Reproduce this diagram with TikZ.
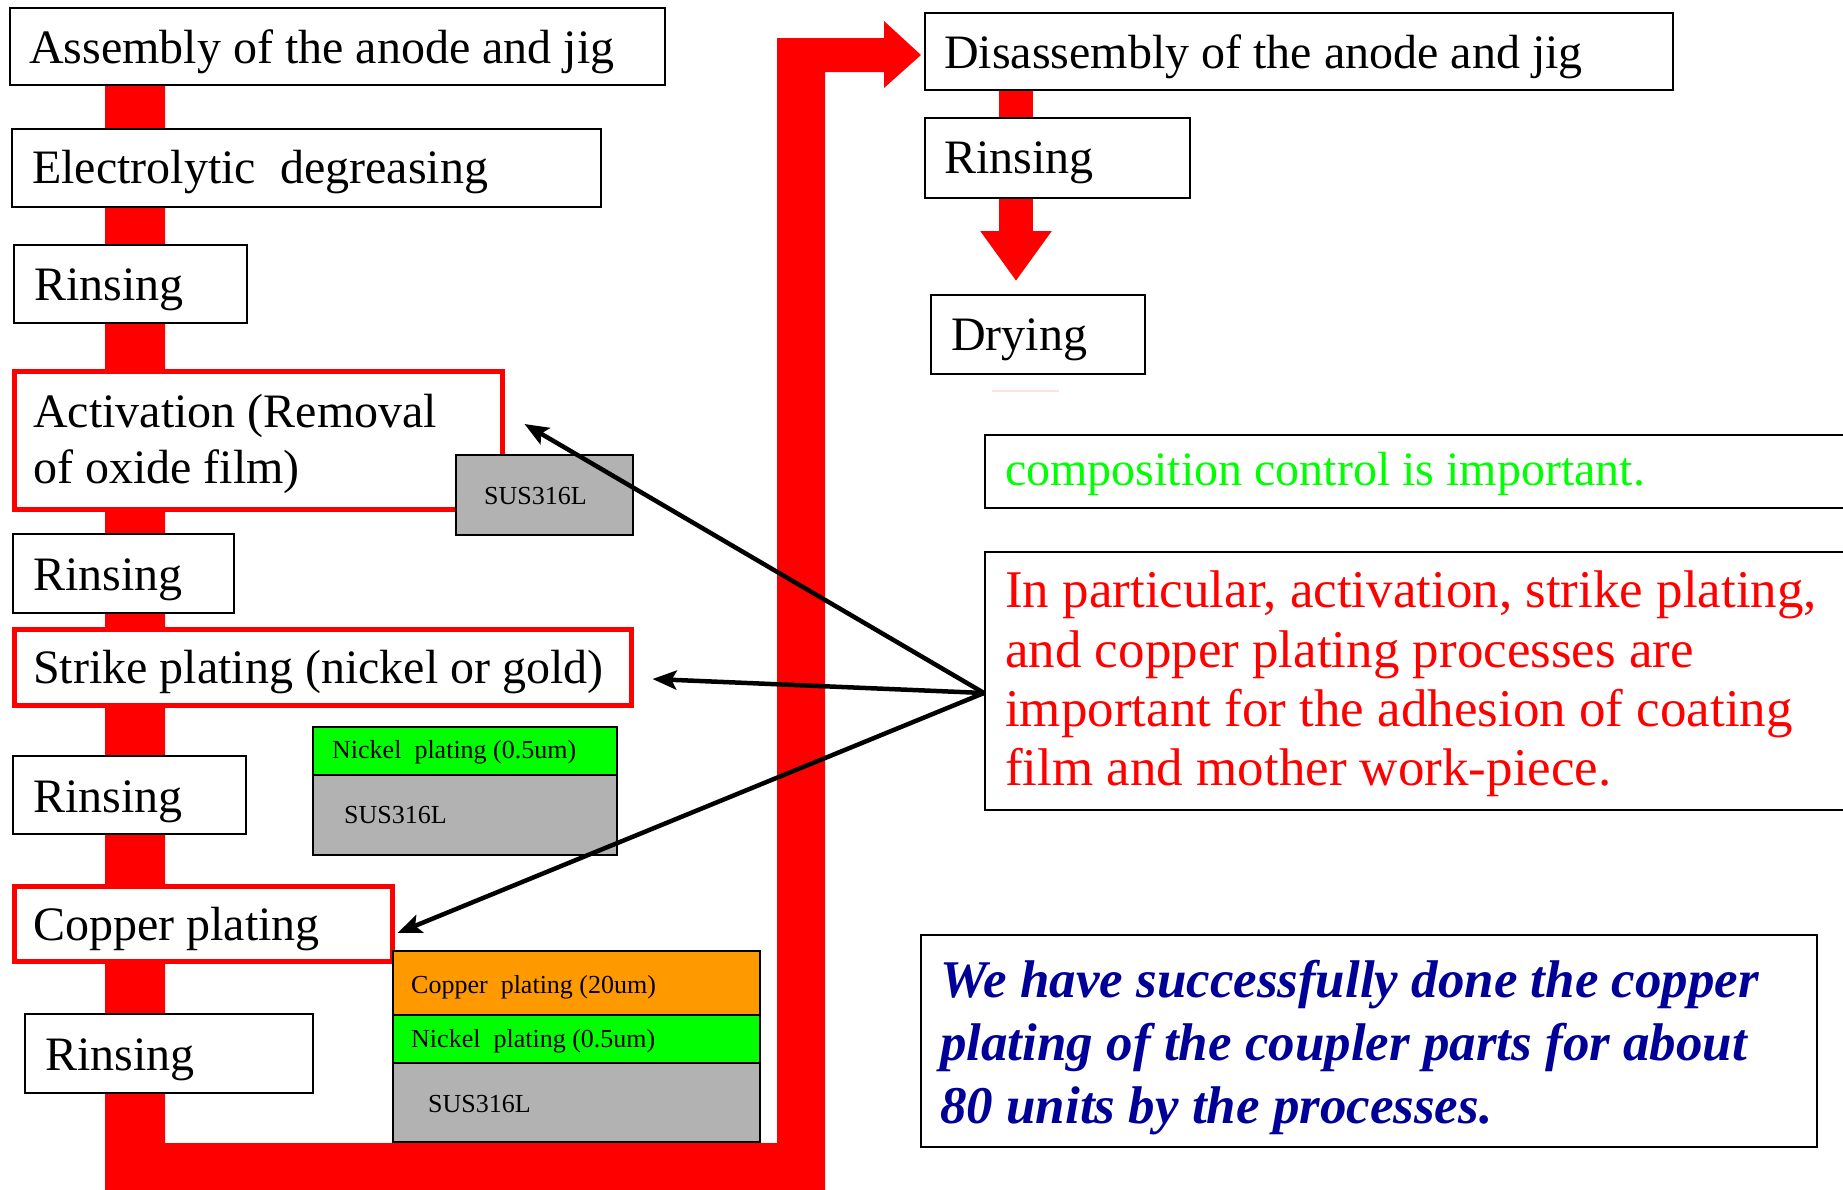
\documentclass[tikz,border=0pt]{standalone}
\usepackage{fontspec}
\setmainfont{Liberation Serif}
\usetikzlibrary{fit,calc,arrows.meta}
\definecolor{sus}{HTML}{B2B2B2}
\definecolor{nigreen}{HTML}{00FF00}
\definecolor{cuorange}{HTML}{FF9900}
\definecolor{navyblue}{HTML}{000099}
\begin{document}
\begin{tikzpicture}[x=1pt,y=-1pt,
  box/.style={draw=black,line width=2pt,fill=white,inner sep=0pt},
  rbox/.style={draw=red,line width=5pt,fill=white,inner sep=0pt},
  layer/.style={draw=black,line width=2.5pt,inner sep=0pt},
  lbl/.style={anchor=base west,inner sep=0pt,font=\fontsize{48}{56}\selectfont},
  big/.style={anchor=base west,inner sep=0pt,font=\fontsize{53}{60}\selectfont},
  small/.style={anchor=base west,inner sep=0pt,font=\fontsize{26}{30}\selectfont},
  pointer/.style={-{Stealth[length=24pt,width=19pt,inset=5pt]},line width=4.5pt,black},
  flowarrow/.style={red,line width=34pt,-{Triangle[length=50pt,width=68pt]}},
]
\useasboundingbox (0,0) rectangle (1843,1189);
\clip (0,0) rectangle (1843,1189);
\fill[white] (0,0) rectangle (1843,1189);

% main red flow path
\fill[red] (105,80) -- (165,80) -- (165,1143) -- (777,1143) -- (777,38) -- (884,38)
  -- (884,21) -- (921,55) -- (884,88) -- (884,72) -- (825,72) -- (825,1195) -- (105,1195) -- cycle;

% left column
\node[box,fit={(10,8)(665,85)}] (asm) {};
\node[lbl] (asmT) at (29,63) {Assembly of the anode and jig};

\node[box,fit={(12,129)(601,207)}] (deg) {};
\node[lbl] (degT) at (32,183) {Electrolytic\ \ degreasing};

\node[box,fit={(14,245)(247,323)}] (rin1) {};
\node[lbl] (rin1T) at (34,300) {Rinsing};

\node[rbox,fit={(14,371)(502,509)}] (act) {};
\node[lbl] (actT1) at (33,427) {Activation (Removal};
\node[lbl] (actT2) at (33,483) {of oxide film)};

\node[layer,fill=sus,fit={(456,455)(633,535)}] (sus1) {};
\node[small] (sus1T) at (484,504) {SUS316L};

\node[box,fit={(13,534)(234,613)}] (rin2) {};
\node[lbl] (rin2T) at (33,590) {Rinsing};

\node[rbox,fit={(14,629)(631,705)}] (str) {};
\node[lbl] (strT) at (33,683) {Strike plating (nickel or gold)};

\node[layer,fill=nigreen,fit={(313,727)(617,775)}] (ni1) {};
\node[small] (ni1T) at (332,758) {Nickel\ \ plating (0.5um)};
\node[layer,fill=sus,fit={(313,775)(617,855)}] (sus2) {};
\node[small] (sus2T) at (344,823) {SUS316L};

\node[box,fit={(13,756)(246,834)}] (rin3) {};
\node[lbl] (rin3T) at (33,812) {Rinsing};

\node[rbox,fit={(14,886)(392,961)}] (cu) {};
\node[lbl] (cuT) at (33,940) {Copper plating};

\node[layer,fill=cuorange,fit={(393,951)(760,1015)}] (cu2) {};
\node[small] (cu2T) at (411,993) {Copper\ \ plating (20um)};
\node[layer,fill=nigreen,fit={(393,1015)(760,1063)}] (ni2) {};
\node[small] (ni2T) at (411,1047) {Nickel\ \ plating (0.5um)};
\node[layer,fill=sus,fit={(393,1063)(760,1142)}] (sus3) {};
\node[small] (sus3T) at (428,1112) {SUS316L};

\node[box,fit={(25,1014)(313,1093)}] (rin4) {};
\node[lbl] (rin4T) at (45,1070) {Rinsing};

% right column
\node[box,fit={(925,13)(1673,90)}] (dis) {};
\node[lbl] (disT) at (944,68) {Disassembly of the anode and jig};

\node[box,fit={(925,118)(1190,198)}] (rin5) {};
\node[lbl] (rin5T) at (944,173) {Rinsing};

\node[box,fit={(931,295)(1145,374)}] (dry) {};
\node[lbl] (dryT) at (951,350) {Drying};

\draw[red,line width=34pt] ($(dis.south west)+(92,0)$) -- ($(rin5.north west)+(92,0)$);
\draw[flowarrow] ($(rin5.south west)+(92,0)$) -- ++(0,82);
\draw[red!12,line width=1.5pt] (992,391) -- (1059,391);

\node[box,fit={(985,435)(1860,508)}] (comp) {};
\node[lbl,text=nigreen] (compT) at (1005,485) {composition control is important.};

\node[box,fit={(985,552)(1860,810)}] (note) {};
\node[big,text=red] (noteT1) at (1005,607) {In particular, activation, strike plating,};
\node[big,text=red] (noteT2) at (1005,667) {and copper plating processes are};
\node[big,text=red] (noteT3) at (1005,726) {important for the adhesion of coating};
\node[big,text=red] (noteT4) at (1005,785) {film and mother work-piece.};

\node[box,fit={(921,935)(1817,1147)}] (res) {};
\node[big,text=navyblue,font=\fontsize{53}{60}\selectfont\bfseries\itshape] (resT1) at (940,997) {We have successfully done the copper};
\node[big,text=navyblue,font=\fontsize{53}{60}\selectfont\bfseries\itshape] (resT2) at (940,1060) {plating of the coupler parts for about};
\node[big,text=navyblue,font=\fontsize{53}{60}\selectfont\bfseries\itshape] (resT3) at (940,1123) {80 units by the processes.};

% pointers
\coordinate (hub) at ($(note.west)+(0,12)$);
\draw[pointer] (hub) -- ($(act.east)+(20,-16)$);
\draw[pointer] (hub) -- ($(str.east)+(19,12)$);
\draw[pointer] (hub) -- ($(cu.east)+(3,9.5)$);
\end{tikzpicture}
\end{document}
